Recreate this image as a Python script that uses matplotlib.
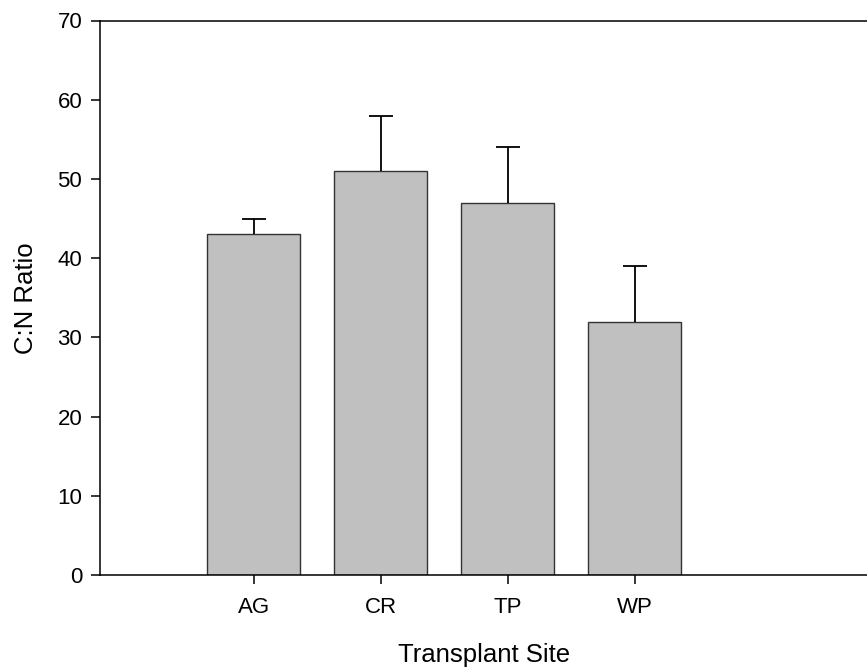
import matplotlib.pyplot as plt

plt.rcParams['font.family'] = ['Liberation Sans', 'DejaVu Sans']

sites = ['AG', 'CR', 'TP', 'WP']
cn_ratio = [43, 51, 47, 32]
cn_err = [2, 7, 7, 7]

fig = plt.figure(figsize=(8.67, 6.67), dpi=100)
ax = fig.add_axes([99.5 / 867, 92 / 667, 770 / 867, 554.5 / 667])

x = list(range(1, len(sites) + 1))
tops = [v + e for v, e in zip(cn_ratio, cn_err)]

ax.bar(x, cn_ratio, width=0.73, color='#c0c0c0', edgecolor='#333333', linewidth=1.0, zorder=2)
# upper error bars only: stem from bar top, cap at the end
ax.vlines(x, cn_ratio, tops, color='black', linewidth=1.3, zorder=3)
ax.plot(x, tops, linestyle='none', marker='_', markersize=17, markeredgewidth=1.3,
        color='black', zorder=3)

ax.set_xlim(-0.215, 5.85)
ax.set_ylim(0, 70)
ax.set_yticks(range(0, 71, 10))
ax.set_xticks(x)
ax.set_xticklabels(sites)

for s in ax.spines.values():
    s.set_linewidth(1.1)
ax.tick_params(direction='out', length=6.5, width=1.1, labelsize=16)
ax.tick_params(axis='x', pad=9.5)
ax.tick_params(axis='y', pad=6)

ax.set_xlabel('Transplant Site', fontsize=18.5, labelpad=18)
ax.set_ylabel('C:N Ratio', fontsize=18.5, labelpad=14)

fig.savefig('out.png', dpi=100)
